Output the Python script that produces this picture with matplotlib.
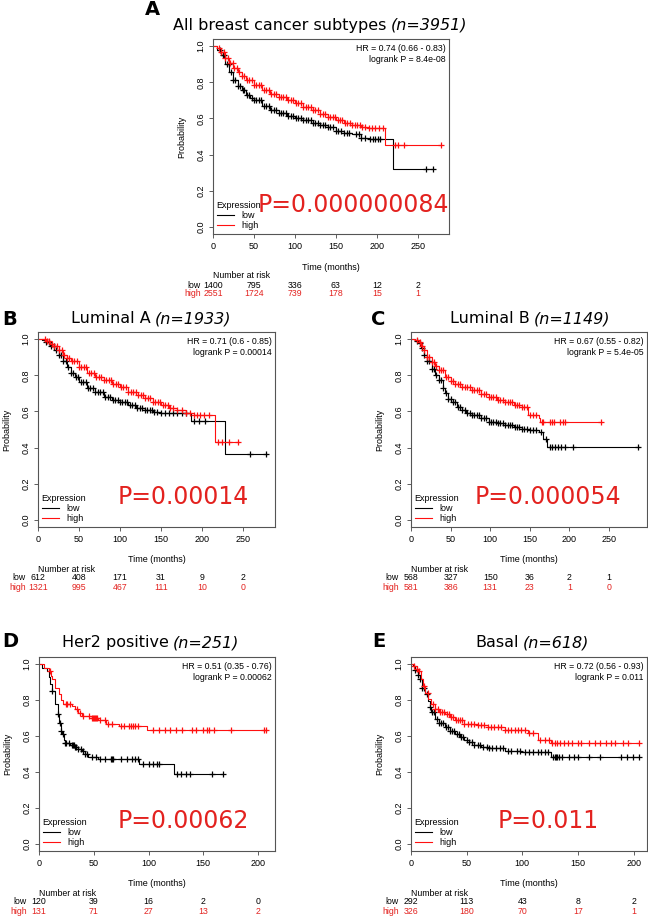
import matplotlib
matplotlib.use('Agg')
import matplotlib.pyplot as plt
import numpy as np

plt.rcParams['font.family'] = ['Liberation Sans', 'DejaVu Sans']

W, H = 648, 916
RED = '#ff1010'
TXT_RED = '#e3221f'

# ---------------- data ----------------
# A  all breast cancer subtypes
a_low_t = [0, 5, 10, 15, 20, 25, 30, 35, 40, 45, 50, 60, 70, 80, 90, 100, 110, 120, 130, 140, 150, 160, 170, 180, 190, 220, 268]
a_low_s = [1.0, 0.98, 0.95, 0.90, 0.86, 0.815, 0.78, 0.755, 0.73, 0.715, 0.70, 0.67, 0.645, 0.628, 0.615, 0.605, 0.59, 0.575, 0.565, 0.55, 0.53, 0.52, 0.512, 0.49, 0.484, 0.322, 0.322]
a_low_cens = [9, 12, 14, 17, 19, 22, 25, 27, 30, 33, 36, 38, 41, 44, 47, 50, 53, 56, 59, 62, 65, 68, 71, 74, 77, 80, 83, 86, 89, 92, 95, 98, 101, 104, 107, 110, 113, 116, 119, 122, 125, 128, 131, 134, 137, 140, 143, 146, 150, 153, 156, 160, 163, 166, 175, 178, 181, 186, 192, 195, 198, 201, 204, 260, 268]
a_high_t = [0, 5, 10, 15, 20, 25, 30, 35, 40, 50, 60, 70, 80, 90, 100, 110, 120, 130, 140, 150, 160, 170, 180, 190, 210, 278]
a_high_s = [1.0, 0.99, 0.97, 0.935, 0.905, 0.88, 0.86, 0.835, 0.815, 0.785, 0.76, 0.737, 0.72, 0.70, 0.685, 0.663, 0.645, 0.627, 0.61, 0.59, 0.575, 0.565, 0.552, 0.545, 0.451, 0.451]
a_high_cens = [7, 10, 13, 15, 18, 21, 24, 26, 29, 32, 35, 38, 41, 44, 47, 50, 53, 56, 59, 62, 65, 68, 71, 74, 77, 80, 83, 86, 89, 92, 95, 98, 101, 104, 107, 110, 113, 116, 119, 122, 125, 128, 131, 134, 137, 140, 143, 146, 149, 152, 155, 158, 161, 164, 167, 170, 173, 176, 179, 182, 186, 190, 194, 198, 203, 208, 222, 226, 233, 278]
a_risk_t = [0, 50, 100, 150, 200, 250]
a_risk_low = [1400, 795, 336, 63, 12, 2]
a_risk_high = [2551, 1724, 739, 178, 15, 1]

# B  luminal A
b_low_t = [0, 5, 10, 15, 20, 25, 30, 35, 40, 45, 50, 60, 70, 80, 90, 100, 110, 120, 130, 140, 150, 186, 228, 279]
b_low_s = [1.0, 0.995, 0.985, 0.965, 0.94, 0.91, 0.88, 0.845, 0.815, 0.79, 0.765, 0.73, 0.705, 0.68, 0.665, 0.65, 0.635, 0.62, 0.607, 0.598, 0.593, 0.548, 0.365, 0.365]
b_low_cens = [10, 13, 16, 19, 22, 25, 28, 31, 34, 37, 40, 43, 46, 49, 52, 55, 58, 61, 64, 67, 70, 73, 76, 79, 82, 85, 88, 91, 94, 97, 100, 103, 106, 109, 112, 115, 118, 121, 124, 127, 130, 133, 136, 139, 142, 145, 150, 155, 160, 165, 170, 175, 180, 190, 196, 204, 259, 278]
b_high_t = [0, 10, 15, 20, 25, 30, 35, 40, 50, 60, 70, 80, 90, 100, 110, 120, 130, 140, 150, 160, 170, 180, 190, 216, 245]
b_high_s = [1.0, 0.99, 0.975, 0.96, 0.94, 0.915, 0.895, 0.88, 0.848, 0.815, 0.793, 0.775, 0.75, 0.735, 0.71, 0.69, 0.672, 0.655, 0.635, 0.62, 0.608, 0.59, 0.578, 0.43, 0.43]
b_high_cens = [8, 11, 14, 17, 20, 23, 26, 29, 32, 35, 38, 41, 44, 47, 50, 53, 56, 59, 62, 65, 68, 71, 74, 77, 80, 83, 86, 89, 92, 95, 98, 101, 104, 107, 110, 113, 116, 119, 122, 125, 128, 131, 134, 137, 140, 143, 146, 149, 152, 155, 158, 161, 165, 170, 175, 180, 185, 190, 194, 198, 203, 208, 220, 224, 233, 244]
b_risk_t = [0, 50, 100, 150, 200, 250]
b_risk_low = [612, 408, 171, 31, 9, 2]
b_risk_high = [1321, 995, 467, 111, 10, 0]

# C  luminal B
c_low_t = [0, 5, 10, 13, 16, 20, 26, 30, 35, 40, 43, 47, 51, 58, 64, 70, 77, 88, 98, 110, 119, 130, 140, 150, 161, 167, 172, 288]
c_low_s = [1.0, 0.99, 0.98, 0.95, 0.91, 0.88, 0.837, 0.80, 0.772, 0.73, 0.70, 0.67, 0.652, 0.625, 0.606, 0.59, 0.581, 0.562, 0.544, 0.535, 0.526, 0.515, 0.504, 0.495, 0.485, 0.448, 0.402, 0.402]
c_low_cens = [8, 11, 14, 17, 20, 23, 26, 29, 32, 35, 38, 41, 44, 47, 50, 53, 56, 59, 62, 65, 68, 71, 74, 77, 80, 83, 86, 89, 92, 95, 98, 101, 104, 107, 110, 113, 116, 119, 122, 125, 128, 131, 134, 137, 140, 143, 146, 150, 154, 158, 164, 170, 175, 178, 182, 186, 190, 195, 204, 287]
c_high_t = [0, 5, 10, 13, 16, 20, 26, 30, 35, 43, 50, 56, 65, 77, 88, 98, 108, 119, 130, 140, 148, 161, 163, 241]
c_high_s = [1.0, 0.995, 0.985, 0.96, 0.94, 0.90, 0.874, 0.85, 0.83, 0.79, 0.768, 0.754, 0.735, 0.717, 0.697, 0.68, 0.665, 0.65, 0.638, 0.626, 0.58, 0.565, 0.54, 0.54]
c_high_cens = [8, 11, 14, 17, 20, 23, 26, 29, 32, 35, 38, 41, 44, 47, 50, 53, 56, 59, 62, 65, 68, 71, 74, 77, 80, 83, 86, 89, 92, 95, 98, 101, 104, 107, 110, 113, 116, 119, 122, 125, 128, 131, 134, 137, 140, 143, 146, 150, 154, 158, 165, 167, 175, 178, 181, 188, 192, 195, 240]
c_risk_t = [0, 50, 100, 150, 200, 250]
c_risk_low = [568, 327, 150, 36, 2, 1]
c_risk_high = [581, 386, 131, 23, 1, 0]

# D  HER2 positive
d_low_t = [0, 3, 7, 9, 10, 12, 15, 17, 18, 20, 21, 23, 24, 28, 33, 36, 39, 42, 45, 54, 91, 123, 168]
d_low_s = [1.0, 0.98, 0.96, 0.93, 0.89, 0.85, 0.78, 0.72, 0.67, 0.63, 0.614, 0.58, 0.56, 0.55, 0.54, 0.53, 0.516, 0.50, 0.485, 0.474, 0.447, 0.388, 0.388]
d_low_cens = [12, 17, 19, 20, 22, 24, 25, 27, 30, 31, 32, 33, 34, 36, 38, 40, 42, 44, 48, 52, 56, 60, 66, 67, 68, 75, 80, 85, 88, 90, 95, 100, 104, 108, 110, 126, 130, 134, 138, 158, 168]
d_high_t = [0, 5, 9, 11, 12, 15, 18, 20, 22, 30, 33, 36, 39, 48, 54, 61, 73, 99, 207]
d_high_s = [1.0, 0.98, 0.96, 0.935, 0.916, 0.87, 0.833, 0.80, 0.778, 0.765, 0.75, 0.73, 0.714, 0.70, 0.69, 0.668, 0.654, 0.632, 0.632]
d_high_cens = [10, 25, 26, 28, 35, 37, 40, 46, 48, 49, 50, 51, 52, 53, 56, 60, 63, 67, 75, 78, 82, 84, 86, 88, 90, 104, 110, 115, 120, 125, 131, 140, 143, 150, 153, 155, 160, 175, 205, 207]
d_risk_t = [0, 50, 100, 150, 200]
d_risk_low = [120, 39, 16, 2, 0]
d_risk_high = [131, 71, 27, 13, 2]

# E  basal
e_low_t = [0, 2, 4, 6, 8, 10, 12.5, 15.5, 17, 18, 21.5, 25, 30.5, 35, 39.5, 44, 48, 52, 57, 63, 69, 84, 99, 126, 205]
e_low_s = [1.0, 0.99, 0.97, 0.94, 0.916, 0.87, 0.833, 0.797, 0.76, 0.733, 0.696, 0.675, 0.65, 0.63, 0.614, 0.595, 0.577, 0.565, 0.55, 0.54, 0.531, 0.518, 0.513, 0.485, 0.485]
e_low_cens = [4, 6, 8, 10, 12, 14, 17, 19, 21, 23, 25, 27, 29, 31, 33, 35, 37, 39, 41, 43, 45, 47, 50, 52, 55, 57, 60, 62, 65, 68, 70, 73, 76, 80, 83, 87, 90, 95, 98, 102, 106, 110, 114, 117, 120, 123, 128, 129, 130, 131, 133, 136, 142, 146, 150, 160, 170, 189, 194, 199, 205]
e_high_t = [0, 3, 5, 6.5, 9, 11, 13, 15.5, 18, 21.5, 25, 30.5, 35, 39.5, 48, 60, 69, 84, 105, 114, 126, 205]
e_high_s = [1.0, 0.99, 0.975, 0.96, 0.92, 0.88, 0.84, 0.806, 0.78, 0.75, 0.735, 0.723, 0.705, 0.687, 0.668, 0.66, 0.65, 0.632, 0.617, 0.58, 0.562, 0.562]
e_high_cens = [3, 5, 7, 12, 15, 20, 22, 24, 26, 28, 30, 32, 34, 36, 38, 40, 42, 44, 46, 48, 51, 54, 57, 60, 63, 66, 69, 72, 75, 78, 81, 84, 87, 90, 93, 96, 99, 102, 106, 110, 116, 120, 124, 127, 129, 131, 134, 137, 141, 145, 150, 153, 160, 165, 170, 175, 180, 183, 190, 195, 205]
e_risk_t = [0, 50, 100, 150, 200]
e_risk_low = [292, 113, 43, 8, 2]
e_risk_high = [326, 180, 70, 17, 1]

fig = plt.figure(figsize=(W / 100, H / 100), dpi=100)
fig.patch.set_facecolor('white')


def px_axes(l, t, r, b):
    return fig.add_axes([l / W, 1 - b / H, (r - l) / W, (b - t) / H])


def title(cx, base_y, main, ital, letter, lx, ly):
    r = fig.canvas.get_renderer()
    t1 = fig.text(0, 1 - base_y / H, main, fontsize=11.5, family='DejaVu Sans', va='baseline')
    t2 = fig.text(0, 1 - base_y / H, ital, fontsize=11.5, family='DejaVu Sans', style='italic', va='baseline')
    w1 = t1.get_window_extent(r).width
    w2 = t2.get_window_extent(r).width
    gap = 4
    x0 = cx - (w1 + gap + w2) / 2
    t1.set_x(x0 / W)
    t2.set_x((x0 + w1 + gap) / W)
    fig.text(lx / W, 1 - ly / H, letter, fontsize=14, family='DejaVu Sans', weight='bold', va='baseline')


def km(ax, t, s, cens, color):
    t = np.asarray(t, float); s = np.asarray(s, float)
    ax.step(t, s, where='post', color=color, lw=0.8)
    c = np.asarray(cens, float)
    cy = s[np.clip(np.searchsorted(t, c, side='right') - 1, 0, len(s) - 1)]
    ax.plot(c, cy, '+', color=color, ms=5, mew=0.9, ls='none')


def panel(box, xmax, xticks, low, high, risk, hr, pval, p_xy):
    ax = px_axes(*box)
    km(ax, *low, 'black')
    km(ax, *high, RED)
    ax.set_xlim(0, xmax); ax.set_ylim(-0.04, 1.04)
    ax.set_xticks(xticks)
    ax.set_yticks([0, 0.2, 0.4, 0.6, 0.8, 1.0])
    ax.set_yticklabels(['0.0', '0.2', '0.4', '0.6', '0.8', '1.0'], rotation=90, va='center')
    ax.tick_params(labelsize=6.5, length=3, width=0.6, pad=2.5, color='#444444')
    for sp in ax.spines.values():
        sp.set_color('#555555'); sp.set_linewidth(0.8)
    ax_w = box[2] - box[0]; ax_h = box[3] - box[1]
    ax.set_xlabel('Time (months)', fontsize=6.5)
    ax.xaxis.set_label_coords(0.5, -33 / ax_h)
    ax.xaxis.label.set_va('center')
    ax.set_ylabel('Probability', fontsize=6.5)
    ax.yaxis.set_label_coords(-31 / ax_w, 0.5)
    ax.yaxis.label.set_va('center')
    ax.text(0.985, 0.975, hr, transform=ax.transAxes, ha='right', va='top', fontsize=6.3, linespacing=1.25)
    ax.plot([], [], color='black', lw=0.8, label='low')
    ax.plot([], [], color=RED, lw=0.8, label='high')
    ax.legend(loc='lower left', frameon=False, fontsize=6.5, title='Expression', title_fontsize=6.5,
              alignment='left', handlelength=1.9, handletextpad=0.8, labelspacing=0.15,
              borderaxespad=0.1, borderpad=0.3)
    fig.text(p_xy[0] / W, 1 - p_xy[1] / H, pval, fontsize=17, family='DejaVu Sans', color=TXT_RED, va='baseline')
    # number at risk table
    rt, rl, rh = risk
    ax.annotate('Number at risk', xy=(0, 0), xycoords='axes fraction', xytext=(0, -42),
                textcoords='offset pixels', ha='left', va='center', fontsize=6.3)
    for lab, vals, col, dy in [('low', rl, 'black', -51), ('high', rh, TXT_RED, -60)]:
        ax.annotate(lab, xy=(0, 0), xycoords=('data', 'axes fraction'), xytext=(-12, dy),
                    textcoords='offset pixels', ha='right', va='center', fontsize=6.3, color=col)
        for x, n in zip(rt, vals):
            ax.annotate(str(n), xy=(x, 0), xycoords=('data', 'axes fraction'), xytext=(0, dy),
                        textcoords='offset pixels', ha='center', va='center', fontsize=6.3, color=col)
    return ax


panel((213, 39, 449, 234), 288, [0, 50, 100, 150, 200, 250],
      (a_low_t, a_low_s, a_low_cens), (a_high_t, a_high_s, a_high_cens),
      (a_risk_t, a_risk_low, a_risk_high),
      'HR = 0.74 (0.66 - 0.83)\nlogrank P = 8.4e-08', 'P=0.000000084', (258, 212))
panel((38, 332, 275, 527), 289, [0, 50, 100, 150, 200, 250],
      (b_low_t, b_low_s, b_low_cens), (b_high_t, b_high_s, b_high_cens),
      (b_risk_t, b_risk_low, b_risk_high),
      'HR = 0.71 (0.6 - 0.85)\nlogrank P = 0.00014', 'P=0.00014', (118, 504))
panel((411, 332, 647, 527), 298, [0, 50, 100, 150, 200, 250],
      (c_low_t, c_low_s, c_low_cens), (c_high_t, c_high_s, c_high_cens),
      (c_risk_t, c_risk_low, c_risk_high),
      'HR = 0.67 (0.55 - 0.82)\nlogrank P = 5.4e-05', 'P=0.000054', (475, 504))
panel((39, 657, 275, 851), 215.5, [0, 50, 100, 150, 200],
      (d_low_t, d_low_s, d_low_cens), (d_high_t, d_high_s, d_high_cens),
      (d_risk_t, d_risk_low, d_risk_high),
      'HR = 0.51 (0.35 - 0.76)\nlogrank P = 0.00062', 'P=0.00062', (118, 828))
panel((411, 657, 647, 851), 212, [0, 50, 100, 150, 200],
      (e_low_t, e_low_s, e_low_cens), (e_high_t, e_high_s, e_high_cens),
      (e_risk_t, e_risk_low, e_risk_high),
      'HR = 0.72 (0.56 - 0.93)\nlogrank P = 0.011', 'P=0.011', (498, 828))

title(320, 30, 'All breast cancer subtypes', '(n=3951)', 'A', 145, 15)
title(151, 323, 'Luminal A', '(n=1933)', 'B', 2, 325)
title(530, 323, 'Luminal B', '(n=1149)', 'C', 371, 325)
title(151, 647, 'Her2 positive', '(n=251)', 'D', 2, 647)
title(532, 647, 'Basal', '(n=618)', 'E', 372, 647)

plt.savefig('out.png', dpi=100, facecolor='white')
plt.close()
print("Saved out.png")
